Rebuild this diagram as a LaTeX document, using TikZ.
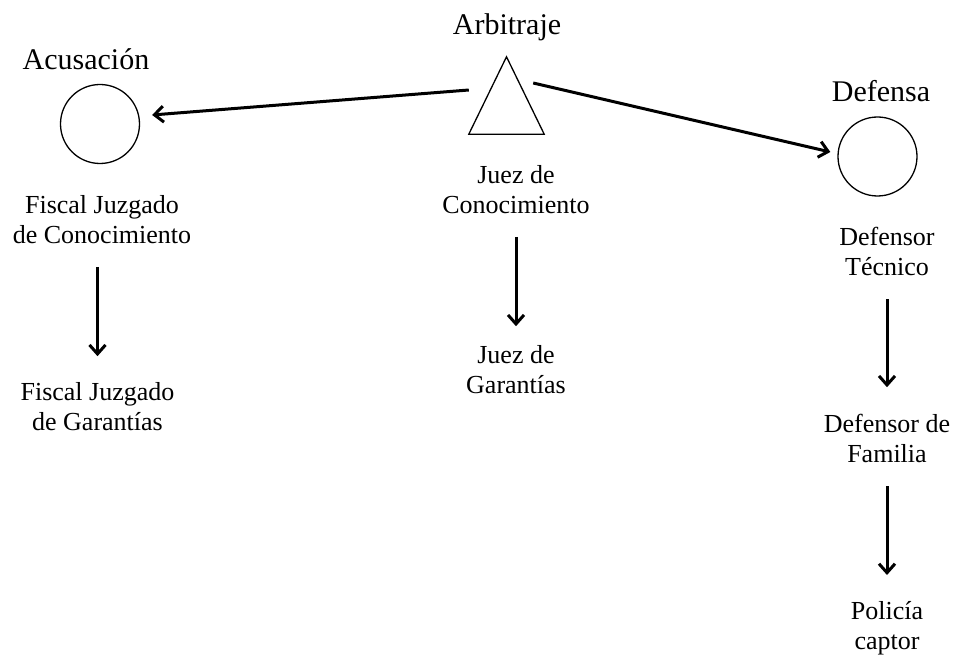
\documentclass[tikz,border=0pt]{standalone}
\usepackage{fontspec}
\setmainfont{Liberation Serif}
\usetikzlibrary{arrows.meta}
\tikzset{>={Straight Barb[length=9pt,width=16pt,line width=3pt]}}
\tikzset{
  party/.style={draw, circle, minimum size=79pt, inner sep=0pt, line width=1.3pt},
  head/.style={anchor=base, inner sep=0pt, font=\fontsize{30}{36}\selectfont},
  role/.style={anchor=north, align=center, inner sep=0pt, font=\fontsize{26}{30}\selectfont},
  flow/.style={->, line width=3pt, shorten <=23pt}
}

\begin{document}
\begin{tikzpicture}[x=1pt, y=-1pt]
  \useasboundingbox (0,0) rectangle (956,655);

  %% the three parties
  \node[head] (acuT) at (86,70) {Acusación};
  \node[party] (acu) at (100,124) {};
  \node[head] (arbT) at (507,35) {Arbitraje};
  \node[minimum width=75pt, minimum height=77pt, inner sep=0pt] (arb) at (506.5,95.5) {};
  \draw[line width=1.3pt, line join=miter] (arb.north) -- (arb.south east) -- (arb.south west) -- cycle;
  \node[head] (defT) at (881,102) {Defensa};
  \node[party] (def) at (877.5,156.5) {};

  %% who stands behind each party
  \node[role] (fjc) at (102,195.2) {Fiscal Juzgado\\de Conocimiento};
  \node[role] (fjg) at (97.5,382.2) {Fiscal Juzgado\\de Garantías};
  \node[role] (jc) at (516,165.2) {Juez de\\Conocimiento};
  \node[role] (jg) at (516,345.2) {Juez de\\Garantías};
  \node[role] (dt) at (887,227.2) {Defensor\\Técnico};
  \node[role] (df) at (887,414.2) {Defensor de\\Familia};
  \node[role] (pc) at (887,601) {Policía\\captor};

  %% arbitraje -> partes
  \draw[->, line width=3pt] ([yshift=5.5pt]arb.west) -- ([xshift=12pt,yshift=9pt]acu.east);
  \draw[->, line width=3pt] ([xshift=-11pt,yshift=12.5pt]arb.east) -- ([xshift=-7pt,yshift=4.5pt]def.west);

  %% chains downwards
  \draw[flow, shorten >=26pt] (fjc.south -| fjg.north) -- (fjg.north);
  \draw[flow, shorten >=19pt] (jc.south) -- (jg.north);
  \draw[flow, shorten >=27pt] (dt.south) -- (df.north);
  \draw[flow, shorten >=26pt] (df.south) -- (pc.north);
\end{tikzpicture}
\end{document}
